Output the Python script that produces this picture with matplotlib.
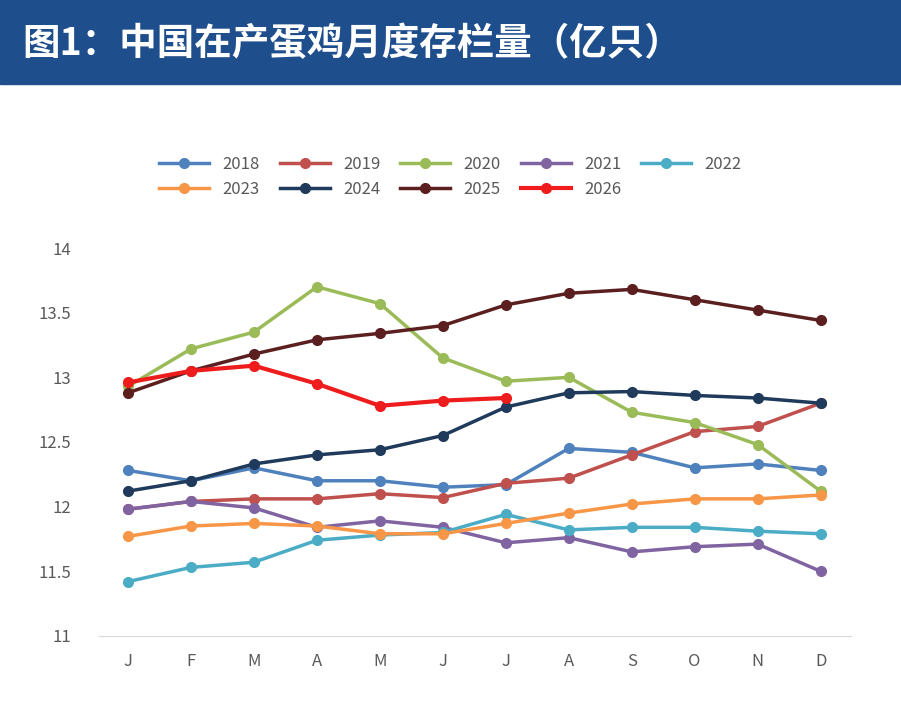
import matplotlib
matplotlib.use("Agg")
import matplotlib.pyplot as plt
from matplotlib.patches import Rectangle

plt.rcParams['font.family'] = ['Noto Sans CJK SC', 'DejaVu Sans']

months = ['J','F','M','A','M','J','J','A','S','O','N','D']
y2018 = [12.28,12.20,12.30,12.20,12.20,12.15,12.17,12.45,12.42,12.30,12.33,12.28]
y2019 = [11.98,12.04,12.06,12.06,12.10,12.07,12.18,12.22,12.40,12.58,12.62,12.80]
y2020 = [12.93,13.22,13.35,13.70,13.57,13.15,12.97,13.00,12.73,12.65,12.48,12.12]
y2021 = [11.98,12.04,11.99,11.84,11.89,11.84,11.72,11.76,11.65,11.69,11.71,11.50]
y2022 = [11.42,11.53,11.57,11.74,11.78,11.80,11.94,11.82,11.84,11.84,11.81,11.79]
y2023 = [11.77,11.85,11.87,11.85,11.79,11.79,11.87,11.95,12.02,12.06,12.06,12.09]
y2024 = [12.12,12.20,12.33,12.40,12.44,12.55,12.77,12.88,12.89,12.86,12.84,12.80]
y2025 = [12.88,13.05,13.18,13.29,13.34,13.40,13.56,13.65,13.68,13.60,13.52,13.44]
y2026 = [12.96,13.05,13.09,12.95,12.78,12.82,12.84]
yticks = [11, 11.5, 12, 12.5, 13, 13.5, 14]
ytick_labels = ['11','11.5','12','12.5','13','13.5','14']

series = [('2018', y2018, '#4f81bd'), ('2019', y2019, '#c0504d'), ('2020', y2020, '#9bbb59'),
          ('2021', y2021, '#8064a2'), ('2022', y2022, '#4bacc6'), ('2023', y2023, '#f79646'),
          ('2024', y2024, '#1f3a5a'), ('2025', y2025, '#5c1f1f'), ('2026', y2026, '#ee1c1c')]

fig = plt.figure(figsize=(9.01, 7.21), dpi=100)
fig.patches.append(Rectangle((0, 0.883), 1, 0.117, transform=fig.transFigure,
                             color='#1f4e8c', zorder=0))
fig.text(0.025, 0.94, '图1：中国在产蛋鸡月度存栏量（亿只）', color='white',
         fontsize=27, fontweight='bold', va='center', ha='left')

ax = fig.add_axes([0.11, 0.118, 0.835, 0.538])
x = list(range(12))
handles = []
for name, vals, c in series:
    lw = 3 if name == '2026' else 2.5
    h, = ax.plot(x[:len(vals)], vals, color=c, lw=lw, marker='o', ms=7, label=name)
    handles.append(h)
ax.set_ylim(11, 14)
ax.set_xlim(-0.46, 11.49)
ax.set_yticks(yticks)
ax.set_yticklabels(ytick_labels)
ax.set_xticks(x)
ax.set_xticklabels(months)
for s in ['top', 'right', 'left']:
    ax.spines[s].set_visible(False)
ax.spines['bottom'].set_color('#d9d9d9')
ax.tick_params(axis='both', length=0, labelsize=12, colors='#595959', pad=12)
ax.tick_params(axis='y', pad=20)

# row-major ordering for a 5-column legend (2 rows)
row1, row2 = handles[:5], handles[5:]
order = []
for i in range(5):
    order.append(row1[i])
    if i < len(row2):
        order.append(row2[i])
fig.legend(handles=order, labels=[h.get_label() for h in order],
           loc='upper center', bbox_to_anchor=(0.5, 0.805), ncol=5, frameon=False,
           fontsize=12, handlelength=3, columnspacing=1.2, labelcolor='#595959')
fig.savefig('out.png', dpi=100)
